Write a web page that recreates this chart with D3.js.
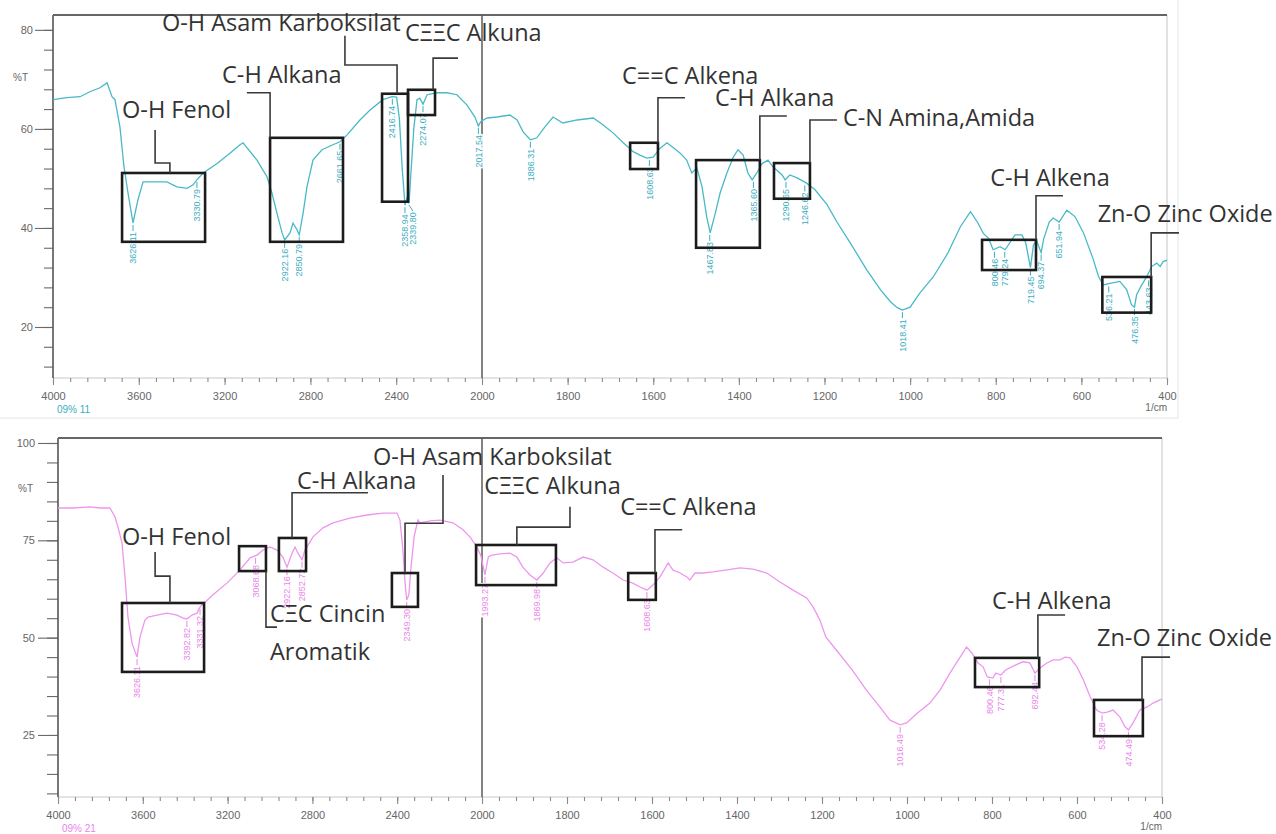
<!DOCTYPE html>
<html>
<head>
<meta charset="utf-8">
<script src="https://cdn.jsdelivr.net/npm/d3@7"></script>
<style>
  body { margin: 0; background: #fff; }
  svg { display: block; }
</style>
</head>
<body>
<div id="myPlot"></div>
<script>
// Spectrum 11 (top): wavenumber (1/cm) and %T
const topWn = [4000, 3935, 3874, 3828, 3781, 3748, 3725, 3711, 3688, 3669, 3650, 3627, 3604, 3580, 3562, 3515, 3469, 3422, 3375, 3347, 3329, 3300, 3235, 3175, 3128, 3114, 3096, 3049, 3002, 2979, 2956, 2932, 2920, 2895, 2881, 2862, 2852, 2834, 2816, 2788, 2746, 2695, 2662, 2629, 2569, 2522, 2462, 2420, 2398, 2385, 2372, 2359, 2350, 2340, 2330, 2318, 2303, 2290, 2275, 2256, 2210, 2163, 2117, 2070, 2033, 2017, 2005,
  1988, 1965, 1935, 1918, 1904, 1887, 1872, 1853, 1834, 1811, 1778, 1740, 1717, 1694, 1670, 1647, 1631, 1615, 1600, 1584, 1568, 1553, 1537, 1522, 1510, 1498, 1486, 1475, 1467, 1455, 1444, 1428, 1413, 1402, 1390, 1379, 1369, 1358, 1346, 1332, 1320, 1299, 1292, 1281, 1264, 1241, 1222, 1194, 1171, 1140, 1101, 1069, 1046, 1030, 1018, 1000, 977, 946, 912, 883, 859, 843, 829, 817, 806, 790, 778, 755, 739, 730, 719, 712, 705, 694, 688, 675, 666, 652, 634, 615, 595, 572, 560, 549, 533, 510, 494, 483, 476, 471, 459, 447, 436, 424, 416, 409, 400];
const topT = [65.9, 66.3, 66.5, 67.5, 68.3, 69.3, 66.5, 65.9, 60.4, 52.3, 47, 41, 45.7, 49.3, 49.3, 49.3, 49.3, 48.3, 48, 48.7, 49.7, 51.1, 53, 55.1, 56.8, 57.2, 56.2, 53.7, 50.3, 47, 43, 39, 37.6, 39, 41, 39.6, 38.6, 43, 48.3, 53.7, 55.8, 56.8, 57.4, 58.8, 61.8, 63.8, 65.9, 66.5, 66.4, 62, 52, 44.6, 46, 45, 52, 60, 65.9, 66.2, 65, 66.9, 67.3, 67.3, 66.9, 64.8, 62.4, 60.6, 61.5,
  62.2, 62.4, 62.8, 61.8, 59.4, 57.8, 58.2, 60.4, 62.4, 61.2, 61.8, 62.2, 60.8, 59.2, 57.2, 55.4, 54.7, 54.1, 54.3, 56.1, 57.2, 56.2, 55.1, 53.7, 51.1, 52.1, 48.3, 42.2, 39, 43, 47, 51.1, 54.3, 55.8, 54.7, 51.1, 49.7, 51.1, 53, 53.7, 52.3, 50.7, 49.7, 50.7, 50.1, 49, 47.7, 44.7, 41.2, 37, 31.5, 27.5, 25.1, 23.9, 23.4, 24, 26.9, 30.1, 34.9, 40.2, 43.3, 41.2, 38.9, 37.9, 35.6, 36.2, 35.6, 38.6, 38.6, 37, 32, 36.5, 37.5, 35, 37.8, 41.2, 42, 41.2, 43.6, 42.3, 39, 33.6, 30.2, 28.5, 28.8, 29.2, 27.5, 24.5, 24, 26.5, 28.5, 30.2, 32.2, 32.9, 32.2, 33.2, 33.5];
const topPeakWn = [3627, 3329, 2920, 2852, 2662, 2418, 2359, 2340, 2275, 2017, 1887, 1609, 1468, 1366, 1290, 1246, 1018, 803, 779, 719, 694, 652, 536, 476, 443];
const topPeakT = [41, 49.7, 37.6, 38.6, 57.4, 66.5, 44.6, 45, 65, 60.6, 57.8, 54.1, 39, 49.7, 49.7, 49, 23.4, 35.6, 35.6, 32, 35, 41.2, 28.6, 24, 29.8];
const topPeakLabel = ["3626.11", "3330.79", "2922.16", "2850.79", "2661.65", "2416.74", "2358.94", "2339.80", "2274.07", "2017.54", "1886.31", "1608.63", "1467.83", "1365.60", "1290.65", "1246.62", "1018.41", "800.46", "779.24", "719.45", "694.37", "651.94", "536.21", "476.35", "443.63"];

// Spectrum 21 (bottom)
const bottomWn = [4000, 3929, 3849, 3802, 3755, 3731, 3717, 3698, 3684, 3670, 3651, 3627, 3613, 3590, 3575, 3533, 3486, 3439, 3410, 3392, 3368, 3344, 3330, 3269, 3203, 3141, 3094, 3061, 3033, 3000, 2967, 2939, 2920, 2896, 2882, 2868, 2849, 2835, 2797, 2750, 2703, 2623, 2542, 2467, 2401, 2387, 2373, 2363, 2355, 2345, 2335, 2320, 2302, 2292, 2245, 2198, 2137, 2090, 2057, 2024, 2005,
  1997, 1993, 1985, 1976, 1958, 1934, 1918, 1904, 1887, 1871, 1856, 1840, 1824, 1809, 1786, 1762, 1739, 1715, 1692, 1668, 1645, 1628, 1612, 1598, 1581, 1562, 1551, 1534, 1518, 1511, 1499, 1480, 1456, 1424, 1393, 1362, 1330, 1299, 1268, 1236, 1221, 1205, 1191, 1164, 1129, 1096, 1064, 1040, 1016, 1001, 976, 946, 922, 899, 875, 860, 847, 833, 821, 811, 798, 791, 779, 768, 744, 727, 711, 699, 687, 671, 656, 640, 628, 616, 600, 585, 569, 554, 541, 529, 515, 499, 487, 479, 468, 452, 435, 421, 405, 400];
const bottomT = [83.3, 83.3, 83.6, 83.3, 83.3, 81, 78.4, 74.3, 65.6, 55.3, 48.6, 45, 50.2, 54.5, 55.3, 55.8, 56.3, 55.8, 55, 54.8, 55.8, 56.3, 57.9, 61, 64, 67.4, 70.5, 71.2, 72.5, 73.3, 72.5, 70.7, 68.1, 71.7, 73.3, 71.7, 70, 72.5, 75.9, 78.2, 79.5, 80.7, 81.5, 82, 82, 80.2, 72.5, 64, 59.7, 61, 68, 76, 80.2, 79.5, 80, 80.2, 79.5, 77.7, 75.9, 73.3, 71,
  68.2, 66.1, 70.8, 71.2, 71.5, 71.7, 70.7, 68.1, 66.1, 64.8, 66.6, 69.2, 70.5, 69.2, 69.4, 70.7, 70, 68.1, 66.6, 64.8, 64, 63, 62.2, 63.5, 65.6, 69.2, 67.4, 66.6, 65.6, 64.8, 66.6, 66.6, 66.9, 67.4, 67.9, 67.6, 66.6, 64.3, 62.2, 60.2, 57.9, 54.5, 50.2, 46.5, 41.7, 36.6, 32.2, 28.8, 27.6, 28.1, 30.6, 33.2, 36.6, 40.9, 45, 47.6, 46, 43.5, 42.5, 39.9, 39.6, 40.9, 40.4, 41.7, 43, 43.8, 43.5, 40.9, 42.2, 43.5, 44.3, 44.3, 45, 44.8, 42.5, 39.1, 34.8, 31.4, 30.6, 30.9, 31.4, 29.6, 27.1, 26.3, 28.1, 31.4, 32.2, 33.2, 34, 34.2];
const bottomPeakWn = [3627, 3392, 3330, 3068, 2920, 2849, 2355, 1993, 1871, 1612, 1016, 806, 779, 699, 541, 479];
const bottomPeakT = [45, 54.8, 57.9, 71, 68.1, 70, 59.7, 66.1, 64.8, 62.2, 27.6, 39.8, 40.4, 40.9, 30.6, 26.3];
const bottomPeakLabel = ["3626.11", "3392.82", "3331.32", "3068.68", "2922.16", "2852.72", "2349.30", "1993.27", "1869.98", "1608.63", "1016.49", "800.46", "777.31", "692.44", "534.28", "474.49"];

const xTickValues = [4000, 3600, 3200, 2800, 2400, 2000, 1800, 1600, 1400, 1200, 1000, 800, 600, 400];
const topYTicks = [20, 40, 60, 80];
const bottomYTicks = [25, 50, 75, 100];

// boxes: [wn left, wn right, %T top, %T bottom], leaders and text anchors in data units
const topAnnotations = [
  { lines: ["O-H Fenol"], box: [3678, 3291, 51.1, 37.2], leader: [[3455, 51.1], [3455, 53.1], [3524, 53.1], [3524, 59.8]], at: [3678, 62.2] },
  { lines: ["C-H Alkana"], box: [2988, 2648, 58.2, 37.2], leader: [[2988, 58.2], [2988, 67.3], [3096, 67.3]], at: [3212, 69.3] },
  { lines: ["O-H Asam Karboksilat"], box: [2466, 2345, 67.1, 45.3], leader: [[2396, 67.1], [2396, 72.9], [2639, 72.9], [2639, 78.8]], at: [3492, 79.8] },
  { lines: ["CΞΞC Alkuna"], box: [2345, 2219, 67.9, 62.8], leader: [[2228, 67.9], [2228, 74.3], [2112, 74.3]], at: [2359, 77.8] },
  { lines: ["C==C Alkena"], box: [1654, 1589, 57.2, 51.9], leader: [[1589, 57.2], [1589, 66.3], [1526, 66.3]], at: [1673, 69.1] },
  { lines: ["C-H Alkana"], box: [1500, 1351, 53.7, 36], leader: [[1351, 53.7], [1351, 62.6], [1288, 62.6]], at: [1456, 64.7] },
  { lines: ["C-N Amina,Amida"], box: [1318, 1234, 53.1, 45.9], leader: [[1234, 53.1], [1234, 61.8], [1171, 61.8]], at: [1157, 60.6] },
  { lines: ["C-H Alkena"], box: [832, 706, 37.6, 31.5], leader: [[706, 37.6], [706, 46.5], [643, 46.5]], at: [813, 48.5] },
  { lines: ["Zn-O Zinc Oxide"], box: [551, 437, 30.1, 22.9], leader: [[437, 30.1], [437, 39], [372, 39]], at: [562, 41.2] }
];
const bottomAnnotations = [
  { lines: ["O-H Fenol"], box: [3698, 3311, 58.9, 41.2], leader: [[3472, 58.9], [3472, 65.8], [3542, 65.8], [3542, 72]], at: [3698, 73.8] },
  { lines: ["CΞC Cincin", "Aromatik"], box: [3146, 3019, 73.5, 67.1], leader: [[3019, 67.1], [3019, 52.7], [2967, 52.7]], at: [3000, 54] },
  { lines: ["C-H Alkana"], box: [2958, 2830, 75.6, 67.1], leader: [[2896, 75.6], [2896, 87.2], [2538, 87.2]], at: [2873, 88.2] },
  { lines: ["O-H Asam Karboksilat"], box: [2425, 2302, 66.6, 57.9], leader: [[2363, 66.6], [2363, 79.4], [2184, 79.4], [2184, 91.8]], at: [2514, 94.3] },
  { lines: ["CΞΞC Alkuna"], box: [2028, 1826, 73.8, 63.5], leader: [[1918, 73.8], [1918, 78.4], [1793, 78.4], [1793, 83.6]], at: [1995, 86.9] },
  { lines: ["C==C Alkena"], box: [1656, 1591, 66.6, 59.7], leader: [[1593, 66.6], [1593, 77.7], [1529, 77.7]], at: [1675, 81.5] },
  { lines: ["C-H Alkena"], box: [840, 689, 44.8, 37.3], leader: [[692, 44.8], [692, 55.8], [628, 55.8]], at: [800, 57.4] },
  { lines: ["Zn-O Zinc Oxide"], box: [560, 445, 34, 24.7], leader: [[447, 34], [447, 45], [381, 45]], at: [553, 47.9] }
];

window.onload = () => {
  const svg = d3.select("#myPlot").append("svg")
    .attr("width", 1276).attr("height", 834);

  // faint frame of the upper screenshot
  svg.append("path").attr("d", "M1178,0V418H0").attr("fill", "none").attr("stroke", "#e4e4e4");

  drawPanel(svg, {
    wn: topWn, t: topT, peakWn: topPeakWn, peakT: topPeakT, peakLabel: topPeakLabel,
    notes: topAnnotations, yTicks: topYTicks, yStep: 4, yFirst: 12,
    xRange: [53, 482, 1167], yDomain: [9.7, 83], yRange: [378, 15],
    color: "#48b9c7", labelColor: "#3aaebf", sample: "09% 11",
    majorLen: 18, minorLen: 9, yPad: 2
  });
  drawPanel(svg, {
    wn: bottomWn, t: bottomT, peakWn: bottomPeakWn, peakT: bottomPeakT, peakLabel: bottomPeakLabel,
    notes: bottomAnnotations, yTicks: bottomYTicks, yStep: 5, yFirst: 10,
    xRange: [58, 482, 1162], yDomain: [9.07, 101.28], yRange: [797, 438],
    color: "#ee96ee", labelColor: "#e985e9", sample: "09% 21",
    majorLen: 20, minorLen: 11, yPad: 3
  });
};

function drawPanel(svg, p) {
  const x = d3.scaleLinear().domain([4000, 2000, 400]).range(p.xRange);
  const y = d3.scaleLinear().domain(p.yDomain).range(p.yRange);
  const left = x(4000), right = x(400), top = p.yRange[1], bottom = p.yRange[0];
  const g = svg.append("g");

  // frame
  g.append("line").attr("x1", right).attr("x2", right).attr("y1", top).attr("y2", bottom)
    .attr("stroke", "#cfcfcf").attr("stroke-width", 1.2);
  g.append("line").attr("x1", left).attr("x2", right).attr("y1", bottom).attr("y2", bottom)
    .attr("stroke", "#c8c8c8").attr("stroke-width", 1);

  // Y axis
  const yMinor = d3.range(p.yFirst, p.yDomain[1], p.yStep);
  const yMinorAxis = g.append("g").attr("transform", "translate(" + left + ",0)")
    .call(d3.axisLeft(y).tickValues(yMinor).tickSize(p.minorLen).tickFormat(""));
  const yMajorAxis = g.append("g").attr("transform", "translate(" + left + ",0)")
    .call(d3.axisLeft(y).tickValues(p.yTicks).tickSize(p.majorLen).tickPadding(p.yPad));
  [yMinorAxis, yMajorAxis].forEach(a => {
    a.select(".domain").remove();
    a.selectAll("line").attr("stroke", "#6a6a6a").attr("stroke-width", 1.1);
  });
  yMajorAxis.selectAll("text").attr("fill", "#666").style("font", "11px 'Liberation Sans', Arial, sans-serif");
  g.append("text").attr("x", left - 40).attr("y", y(p.yTicks[2]) - 48)
    .attr("fill", "#666").style("font", "10px 'Liberation Sans', Arial, sans-serif").text("%T");

  // X axis
  const xMinor = d3.range(4000, 2000, -80).concat(d3.range(2000, 399, -40));
  const xMinorAxis = g.append("g").attr("transform", "translate(0," + bottom + ")")
    .call(d3.axisBottom(x).tickValues(xMinor).tickSize(4).tickFormat(""));
  const xMajorAxis = g.append("g").attr("transform", "translate(0," + bottom + ")")
    .call(d3.axisBottom(x).tickValues(xTickValues).tickSize(7).tickPadding(7).tickFormat(d3.format("d")));
  [xMinorAxis, xMajorAxis].forEach(a => {
    a.select(".domain").remove();
    a.selectAll("line").attr("stroke", "#8a8a8a").attr("stroke-width", 1.1);
  });
  xMajorAxis.selectAll("text").attr("fill", "#666").style("font", "11px 'Liberation Sans', Arial, sans-serif");
  g.append("text").attr("x", left + 4).attr("y", bottom + 35).attr("fill", p.labelColor)
    .style("font", "10px 'Liberation Sans', Arial, sans-serif").text(p.sample);
  g.append("text").attr("x", right).attr("y", bottom + 33).attr("text-anchor", "end").attr("fill", "#666")
    .style("font", "10px 'Liberation Sans', Arial, sans-serif").text("1/cm");

  // left axis and top border
  g.append("line").attr("x1", left).attr("x2", left).attr("y1", top).attr("y2", bottom)
    .attr("stroke", "#555").attr("stroke-width", 1.6);
  g.append("line").attr("x1", left).attr("x2", right).attr("y1", top).attr("y2", top)
    .attr("stroke", "#666").attr("stroke-width", 2.2);
  // break of the wavenumber scale at 2000
  g.append("line").attr("x1", x(2000)).attr("x2", x(2000)).attr("y1", top).attr("y2", bottom)
    .attr("stroke", "#5a5a5a").attr("stroke-width", 1.5);

  // spectrum
  const line = d3.line().x(d => x(d[0])).y(d => y(d[1]));
  g.append("path").datum(d3.zip(p.wn, p.t))
    .attr("d", line).attr("fill", "none").attr("stroke", p.color).attr("stroke-width", 1.3);

  // peak labels
  const peaks = p.peakWn.map((w, i) => ({ px: x(w), py: y(p.peakT[i]), text: p.peakLabel[i] }))
    .sort((a, b) => a.px - b.px);
  let prev = -100;
  peaks.forEach(pk => {
    pk.lx = Math.max(pk.px, prev + 8);
    prev = pk.lx;
  });
  peaks.forEach(pk => {
    const top0 = pk.py + 9;
    const lg = g.append("g").attr("transform", "translate(" + pk.lx + "," + top0 + ") rotate(-90)");
    const bg = lg.append("rect").attr("fill", "#fff");
    const txt = lg.append("text").attr("text-anchor", "end").attr("dy", "0.35em")
      .attr("fill", p.labelColor).style("font", "9px 'Liberation Sans', Arial, sans-serif").text(pk.text);
    const len = txt.node().getComputedTextLength();
    bg.attr("x", -len - 1).attr("y", -4.5).attr("width", len + 2).attr("height", 9);
    g.append("path").attr("d", "M" + pk.px + "," + (pk.py + 2) + "L" + pk.lx + "," + (top0 - 1))
      .attr("stroke", p.labelColor).attr("stroke-width", 1).attr("fill", "none");
  });

  // functional group annotations
  const pts = d3.line().x(d => x(d[0])).y(d => y(d[1]));
  p.notes.forEach(n => {
    g.append("rect")
      .attr("x", x(n.box[0])).attr("y", y(n.box[2]))
      .attr("width", x(n.box[1]) - x(n.box[0])).attr("height", y(n.box[3]) - y(n.box[2]))
      .attr("fill", "none").attr("stroke", "#1c1c1c").attr("stroke-width", 2.6);
    g.append("path").attr("d", pts(n.leader))
      .attr("fill", "none").attr("stroke", "#3a3a3a").attr("stroke-width", 1.6);
    const t = g.append("text").attr("x", x(n.at[0])).attr("y", y(n.at[1]))
      .attr("fill", "#333").style("font", "23.5px 'Open Sans', sans-serif");
    n.lines.forEach((s, i) => {
      t.append("tspan").attr("x", x(n.at[0])).attr("dy", i === 0 ? 0 : 38).text(s);
    });
  });
}
</script>
</body>
</html>
